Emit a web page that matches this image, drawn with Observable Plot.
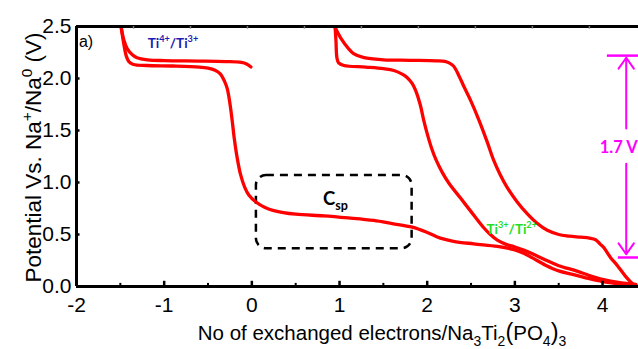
<!DOCTYPE html>
<html><head><meta charset="utf-8">
<script src="https://cdn.jsdelivr.net/npm/d3@7"></script>
<script src="https://cdn.jsdelivr.net/npm/@observablehq/plot@0.6"></script>
<style>body{margin:0;background:#fff;overflow:hidden}</style>
</head><body><div id="chart"></div>
<script>
// ---- data ----
const xMajorTicks = [-2, -1, 0, 1, 2, 3, 4];
const xMinorTicks = [-1.5, -0.5, 0.5, 1.5, 2.5, 3.5];
const yTicks = [0, 0.5, 1, 1.5, 2, 2.5];
const topTicks = [-1.35, -0.7, -0.05, 0.6, 1.25, 1.9, 2.55, 3.2, 3.85];

// curve points: [electrons, potential]
const curveLeftUpper = [[-1.49,2.49],[-1.46,2.37],[-1.42,2.285],[-1.36,2.225],[-1.31,2.2],[-1.19,2.18],[-1.0,2.172],[-0.6,2.168],[-0.3,2.163],[-0.12,2.155],[-0.06,2.14],[-0.01,2.11]];
const curveFirstDischarge = [[-1.49,2.49],[-1.46,2.33],[-1.43,2.21],[-1.40,2.16],[-1.35,2.135],[-1.2,2.125],[-0.9,2.12],[-0.6,2.11],[-0.5,2.1],[-0.42,2.08],[-0.36,2.045],[-0.31,1.97],[-0.28,1.9],[-0.25,1.76],[-0.225,1.6],[-0.2,1.42],[-0.17,1.25],[-0.13,1.08],[-0.08,0.95],[-0.035,0.88],[0.05,0.81],[0.15,0.76],[0.25,0.73],[0.5,0.695],[0.82,0.68],[1.1,0.66],[1.39,0.635],[1.6,0.605],[1.83,0.57],[2.0,0.52],[2.15,0.465],[2.3,0.435],[2.53,0.41],[2.8,0.385],[2.99,0.355],[3.1,0.32],[3.2,0.275],[3.35,0.205],[3.5,0.15],[3.67,0.115],[3.85,0.075],[4.0,0.048],[4.2,0.026],[4.38,0.012]];
const curveSecondDischarge = [[0.95,2.49],[0.96,2.35],[0.97,2.2],[0.99,2.15],[1.05,2.125],[1.3,2.11],[1.5,2.095],[1.62,2.077],[1.72,2.04],[1.77,2.01],[1.83,1.95],[1.87,1.88],[1.92,1.75],[1.96,1.6],[2.0,1.47],[2.05,1.33],[2.1,1.22],[2.17,1.1],[2.25,0.99],[2.38,0.85],[2.5,0.72],[2.64,0.57],[2.72,0.5],[2.8,0.445],[2.9,0.405],[3.0,0.38],[3.1,0.35],[3.2,0.315],[3.35,0.255],[3.5,0.2],[3.7,0.15],[3.85,0.105],[4.0,0.068],[4.2,0.037],[4.38,0.02]];
const curveSecondCharge = [[0.95,2.49],[1.02,2.38],[1.1,2.29],[1.16,2.24],[1.28,2.2],[1.5,2.18],[1.8,2.175],[2.1,2.17],[2.2,2.165],[2.25,2.15],[2.3,2.12],[2.36,2.03],[2.42,1.92],[2.5,1.78],[2.59,1.6],[2.68,1.4],[2.76,1.21],[2.83,1.08],[2.91,0.955],[3.02,0.82],[3.14,0.70],[3.25,0.61],[3.37,0.54],[3.5,0.5],[3.62,0.485],[3.75,0.474],[3.85,0.465],[3.92,0.45],[3.97,0.41],[4.01,0.378],[4.09,0.28],[4.17,0.2],[4.26,0.1],[4.32,0.045],[4.36,0.015]];

const cspBox = [{x1: 0.052, x2: 1.828, y1: 0.363, y2: 1.067}];
const voltageBars = [{v: 2.22, x1: 4.055, x2: 4.41}, {v: 0.279, x1: 4.18, x2: 4.41}];
const voltageArrows = [{x: 4.27, y1: 1.52, y2: 2.2}, {x: 4.27, y1: 1.18, y2: 0.31}];

const curves = [
  {name: "leftUpper", pts: curveLeftUpper},
  {name: "firstDischarge", pts: curveFirstDischarge},
  {name: "secondDischarge", pts: curveSecondDischarge},
  {name: "secondCharge", pts: curveSecondCharge}
];
const rows = curves.flatMap(c => c.pts.map(([x, v]) => ({series: c.name, x, v})));

const MAG = "#ff00ff";

const plot = Plot.plot({
  width: 638, height: 349,
  marginLeft: 76, marginRight: 0, marginTop: 26, marginBottom: 63,
  x: {domain: [-2, 4.41]},
  y: {domain: [0, 2.5]},
  style: {fontFamily: "'Liberation Sans', Arial, sans-serif", fontSize: "21px", color: "black", background: "white", overflow: "visible"},
  marks: [
    Plot.rect(cspBox, {x1: "x1", x2: "x2", y1: "y1", y2: "y2", rx: 10, ry: 10, fill: "none", stroke: "black", strokeWidth: 2.5, strokeDasharray: "8,6"}),
    Plot.line(rows, {x: "x", y: "v", z: "series", stroke: "#ff0000", strokeWidth: 3.3, curve: "catmull-rom", strokeLinejoin: "round", strokeLinecap: "round"}),
    // frame
    Plot.ruleY([0], {stroke: "black", strokeWidth: 3}),
    Plot.ruleY([2.5], {stroke: "black", strokeWidth: 3}),
    Plot.ruleX([-2], {stroke: "black", strokeWidth: 3}),
    // inner ticks
    Plot.ruleX(xMajorTicks, {y1: 0, y2: 0.05, stroke: "black", strokeWidth: 2.5}),
    Plot.ruleX(xMinorTicks, {y1: 0, y2: 0.03, stroke: "black", strokeWidth: 2}),
    Plot.ruleX(topTicks, {y1: 2.5, y2: 2.475, stroke: "#777", strokeWidth: 1.5}),
    Plot.ruleY(yTicks, {x1: -2, x2: -1.96, stroke: "black", strokeWidth: 2.5}),
    // axes labels
    Plot.axisX(xMajorTicks, {tickSize: 0, tickPadding: 11, label: null, tickFormat: d => String(d), fontSize: 21}),
    Plot.axisY(yTicks, {tickSize: 0, tickPadding: 5, label: null, tickFormat: d => d.toFixed(1), fontSize: 21}),
    // 1.7 V annotation
    Plot.ruleY(voltageBars, {y: "v", x1: "x1", x2: "x2", stroke: MAG, strokeWidth: 2.5}),
    Plot.arrow(voltageArrows, {x1: "x", x2: "x", y1: "y1", y2: "y2", stroke: MAG, strokeWidth: 2, headLength: 10, headAngle: 70})
  ]
});
document.getElementById("chart").appendChild(plot);

// ---- rich text annotations ----
const sx = plot.scale("x"), sy = plot.scale("y");
const svg = d3.select(plot);
function rich(x, y, parts, o) {
  const t = svg.append("text")
    .attr("x", x).attr("y", y)
    .attr("font-family", o.family || "'Liberation Sans', Arial, sans-serif")
    .attr("font-size", o.size)
    .attr("font-weight", o.weight || "normal")
    .attr("fill", o.fill || "black")
    .attr("text-anchor", o.anchor || "middle");
  if (o.rotate) t.attr("transform", `rotate(${o.rotate},${x},${y})`);
  let shift = 0;
  for (const [s, kind, scale] of parts) {
    const target = kind === "sup" ? -o.size * 0.42 : kind === "sub" ? o.size * 0.28 : 0;
    const ts = t.append("tspan").text(s);
    if (target - shift !== 0) ts.attr("dy", target - shift);
    shift = target;
    if (kind) ts.attr("font-size", o.size * 0.68);
    if (scale) ts.attr("font-size", o.size * scale);
  }
  return t;
}
const bold = "Lato, 'Open Sans', sans-serif";

rich(sx.apply(-1.886), sy.apply(2.3), [["a)"]], {size: 16});
rich(sx.apply(-0.894), sy.apply(2.29), [["Ti"], ["4+", "sup"], ["/Ti"], ["3+", "sup"]], {size: 13.5, weight: "bold", fill: "#1c1cb4", family: bold});
rich(sx.apply(2.97), sy.apply(0.5), [["Ti"], ["3+", "sup"], ["/Ti"], ["2+", "sup"]], {size: 13.5, weight: "bold", fill: "#22dd22", family: bold});
rich(sx.apply(0.816), sy.apply(0.779), [["C"], ["sp", "sub"]], {size: 18.5, weight: "bold", anchor: "start", family: bold});
rich(sx.apply(4.19), sy.apply(1.28), [["1.7 V"]], {size: 16.5, weight: "bold", fill: MAG, family: bold});

rich(41, 157.5, [["Potential Vs. Na"], ["+", "sup"], ["/Na"], ["0", "sup"], [" (V)"]], {size: 22.5, rotate: -90});
rich(382, 340, [["No of exchanged electrons/Na"], ["3", "sub"], ["Ti"], ["2", "sub"], ["(", null, 1.15], ["PO"], ["4", "sub"], [")", null, 1.15], ["3", "sub"]], {size: 20.5});
</script>
</body></html>
